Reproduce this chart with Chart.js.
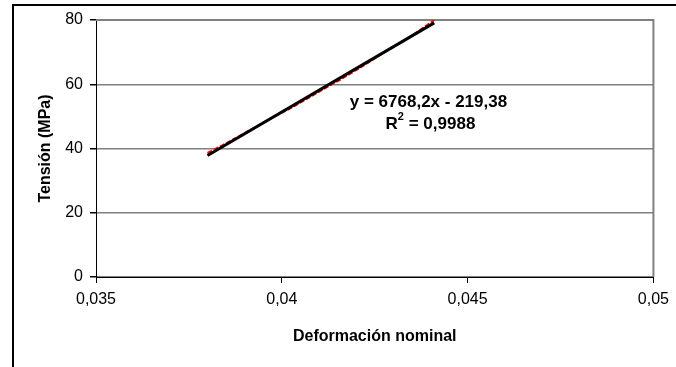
<!DOCTYPE html>
<html>
<head>
<meta charset="utf-8">
<script src="https://cdn.jsdelivr.net/npm/chart.js@4/dist/chart.umd.min.js"></script>
<style>
  html, body { margin: 0; padding: 0; background: #fff; }
  #wrap { width: 676px; height: 367px; }
</style>
</head>
<body>
<div id="wrap"><canvas id="mainCanvas" width="676" height="367"></canvas></div>
<script>
// measured points (strain, stress MPa)
var strain = [0.0380, 0.0384, 0.0388, 0.0392, 0.0396, 0.0400, 0.0404, 0.0408, 0.0412, 0.0416, 0.0420, 0.0424, 0.0428, 0.0432, 0.0436, 0.0441];
var stress = [38.6, 41.0, 43.5, 46.1, 48.7, 51.1, 53.6, 56.3, 59.0, 61.6, 64.4, 67.3, 70.2, 73.0, 75.9, 80.0];

// linear trendline from the chart label
var trendSlope = 6768.2;
var trendIntercept = -219.38;
var trendRange = [0.0380, 0.0441];
var eqLines = ['y = 6768,2x - 219,38', 'R2 = 0,9988'];

var xTicks = [0.035, 0.04, 0.045, 0.05];
var yTicks = [0, 20, 40, 60, 80];

function fmt(v){ return String(v).replace('.', ','); }

var points = strain.map(function(x, i){ return { x: x, y: stress[i] }; });
var trend = trendRange.map(function(x){ return { x: x, y: trendSlope * x + trendIntercept }; });

var FONT = '"Liberation Sans", Arial, sans-serif';

var frame = {
  id: 'frame',
  beforeDraw: function(chart){
    var c = chart.ctx;
    c.save();
    c.fillStyle = '#fff';
    c.fillRect(0, 0, chart.width, chart.height);
    c.strokeStyle = '#000';
    c.lineWidth = 2;
    c.strokeRect(13, 5, 800, 500);
    c.restore();
  },
  beforeDatasetsDraw: function(chart){
    var a = chart.chartArea, c = chart.ctx;
    c.save();
    c.strokeStyle = '#808080';
    c.lineWidth = 2;
    c.beginPath();
    c.moveTo(a.left, a.top);
    c.lineTo(a.right, a.top);
    c.lineTo(a.right, a.bottom);
    c.stroke();
    c.restore();
  },
  afterDraw: function(chart){
    var c = chart.ctx;
    var xs = chart.scales.x, ys = chart.scales.y;
    var cx = xs.getPixelForValue(0.0440);
    var cy = ys.getPixelForValue(54.4);
    c.save();
    c.fillStyle = '#000';
    c.textBaseline = 'middle';
    c.font = 'bold 17px ' + FONT;
    c.textAlign = 'center';
    c.fillText(eqLines[0], cx - 2, cy);
    // R^2 with superscript
    var base = 'R', rest = ' = 0,9988';
    var wB = c.measureText(base).width;
    var wR = c.measureText(rest).width;
    c.font = 'bold 11px ' + FONT;
    var wS = c.measureText('2').width;
    var total = wB + wS + wR;
    var x0 = cx - total / 2, y2 = cy + 22;
    c.textAlign = 'left';
    c.font = 'bold 17px ' + FONT;
    c.fillText(base, x0, y2);
    c.font = 'bold 11px ' + FONT;
    c.fillText('2', x0 + wB, y2 - 7);
    c.font = 'bold 17px ' + FONT;
    c.fillText(rest, x0 + wB + wS, y2);
    c.restore();
  }
};

var ctx = document.getElementById('mainCanvas').getContext('2d');
var chart = new Chart(ctx, {
  type: 'scatter',
  data: {
    datasets: [{
      label: 'Lineal',
      data: trend,
      showLine: true,
      borderColor: '#000',
      borderWidth: 3,
      pointRadius: 0,
      order: 0
    }, {
      label: 'Datos',
      data: points,
      showLine: true,
      borderColor: '#ff0000',
      borderWidth: 2,
      borderDash: [5, 2],
      pointRadius: 0,
      order: 1
    }]
  },
  options: {
    responsive: false,
    animation: false,
    layout: { padding: { left: 32, top: 20, right: 21, bottom: 17 } },
    plugins: { legend: { display: false }, tooltip: { enabled: false } },
    scales: {
      x: {
        type: 'linear',
        min: 0.035, max: 0.05,
        afterBuildTicks: function(s){ s.ticks = xTicks.map(function(v){ return { value: v }; }); },
        afterFit: function(s){ s.height = 73; },
        ticks: {
          color: '#000', font: { family: FONT, size: 16 }, padding: 7, maxRotation: 0,
          callback: function(v){ return fmt(v); }
        },
        grid: { drawOnChartArea: false, tickLength: 6, tickColor: '#000' },
        border: { color: '#000', width: 1 },
        title: {
          display: true, text: 'Deformación nominal', color: '#000',
          font: { family: FONT, size: 16, weight: 'bold' }, padding: { top: 4, bottom: 4 }
        }
      },
      y: {
        min: 0, max: 80,
        afterBuildTicks: function(s){ s.ticks = yTicks.map(function(v){ return { value: v }; }); },
        afterFit: function(s){ s.width = 64; },
        ticks: { color: '#000', font: { family: FONT, size: 16 }, padding: 7 },
        grid: { color: '#808080', lineWidth: 1.5, tickLength: 6, tickColor: '#000' },
        border: { color: '#000', width: 1 },
        title: {
          display: true, text: 'Tensión (MPa)', color: '#000',
          font: { family: FONT, size: 16, weight: 'bold' }, padding: { top: 4, bottom: 4 }
        }
      }
    }
  },
  plugins: [frame]
});
</script>
</body>
</html>
